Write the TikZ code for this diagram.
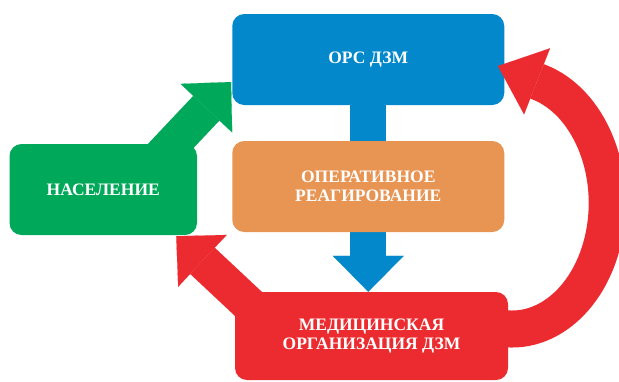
\documentclass[tikz,border=0pt]{standalone}
\usepackage{fontspec}
\setmainfont{Liberation Serif}
\usepackage{tikz}
\usetikzlibrary{arrows.meta}
\definecolor{orsblue}{HTML}{0288CB}
\definecolor{oporange}{HTML}{E89453}
\definecolor{popgreen}{HTML}{00A859}
\definecolor{medred}{HTML}{EC2B30}

\begin{document}
\begin{tikzpicture}[x=1pt, y=-1pt,
    box/.style={rounded corners=12pt, minimum width=272pt, minimum height=91pt,
          inner sep=0pt, align=center, text=white,
          font=\bfseries\fontsize{17.5}{19}\selectfont},
    fatarrow/.style={line width=36pt,
          -{Triangle[width=71pt, length=36pt, line width=0.1pt]}}]
    \useasboundingbox (0,0) rectangle (619,381);
    \clip (0,0) rectangle (619,381);

    \node[box, fill=orsblue] (ors) at (368.25,59.5) {ОРС ДЗМ};
    \node[box, fill=medred, minimum width=273pt, minimum height=88pt]
          (med) at (371.5,336) {МЕДИЦИНСКАЯ\\ОРГАНИЗАЦИЯ ДЗМ};

    \draw[fatarrow, orsblue] (ors.south) -- (ors.south |- med.north);

    \node[box, fill=oporange] (op) at (368.25,186.5) {ОПЕРАТИВНОЕ\\РЕАГИРОВАНИЕ};
    \node[box, fill=popgreen, minimum width=187.5pt] (pop) at (103.25,189.5) {НАСЕЛЕНИЕ};

    \draw[fatarrow, popgreen] ([shift={(-48,25)}]pop.north east)
          -- ([shift={(-1,22.5)}]ors.west);
    \draw[fatarrow, medred] ([shift={(21,19)}]med.north west)
          -- ([shift={(-21,1)}]pop.south east);
    \draw[medred, line width=37pt,
          -{Triangle[width=71pt, length=42pt, line width=0.1pt]}]
          ([shift={(-20.6,-11.3)}]med.east)
          arc[start angle=105, end angle=-73.5, x radius=95, y radius=126]
          -- ([shift={(-6.5,6.5)}]ors.east);
  \end{tikzpicture}
\end{document}
